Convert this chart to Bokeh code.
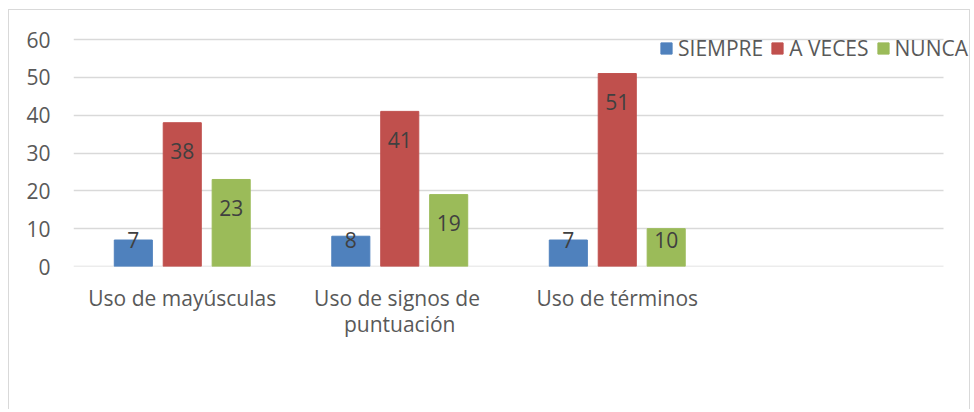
import numpy as np
from bokeh.plotting import figure
from bokeh.models import Range1d, FixedTicker, ColumnDataSource, LinearAxis
from bokeh.core.properties import value
from bokeh.embed import file_html
from bokeh.resources import INLINE

categories = ["Uso de mayúsculas", "Uso de  signos de\npuntuación", "Uso de términos"]
siempre = [7, 8, 7]
a_veces = [38, 41, 51]
nunca = [23, 19, 10]
series_names = ["SIEMPRE", "A VECES", "NUNCA"]
y_ticks = [0, 10, 20, 30, 40, 50, 60]
n_slots = 4  # the chart reserves room for a 4th (empty) category

colors = ["#4F81BD", "#C0504D", "#9BBB59"]
FONT = "Open Sans"
TXT = "#595959"
FS = "21px"

# layout (pixels)
W, H = 962, 400
MB_L, MB_R, MB_T, MB_B = 64, 0, 0, 144
plot_w = 870          # width of the category area
plot_h = 227          # height from 0 to 60
frame_w = W - MB_L - MB_R
frame_h = H - MB_T - MB_B
px_per_unit = plot_h / y_ticks[-1]

x_end = n_slots * frame_w / plot_w
y_end = y_ticks[-1] * frame_h / plot_h

p = figure(x_range=Range1d(0, x_end), y_range=Range1d(0, y_end), width=W, height=H,
           output_backend="svg", toolbar_location=None,
           min_border_left=MB_L, min_border_right=MB_R, min_border_top=MB_T,
           min_border_bottom=MB_B)
p.styles = {"margin-left": "8px", "margin-top": "9px", "background-color": "white",
            "border-left": "1px solid #d9d9d9", "border-top": "1px solid #d9d9d9",
            "border-right": "1px solid #d9d9d9"}
p.outline_line_color = None
p.background_fill_alpha = 0
p.border_fill_alpha = 0

centers = np.arange(len(categories)) + 0.5
offsets = [-0.225, 0.0, 0.225]
bw = 0.175
for name, vals, off, col in zip(series_names, [siempre, a_veces, nunca], offsets, colors):
    v = np.array(vals, dtype=float)
    lab_y = np.maximum(v - 28.5 / px_per_unit, 26.5 / px_per_unit)
    src = ColumnDataSource(dict(x=centers + off, val=v, lab_y=lab_y,
                                txt=[str(int(x)) for x in vals]))
    p.vbar(x="x", top="val", width=bw, source=src,
           fill_color=col, line_color=col, legend_label=name)
    p.text(x="x", y="lab_y", text="txt", source=src,
           text_align="center", text_baseline="middle", text_font=value(FONT),
           text_font_size=FS, text_color="#404040")

# first y axis (under the bars): its ticks, drawn inward, act as gridlines
p.yaxis.level = "underlay"
p.yaxis.ticker = FixedTicker(ticks=y_ticks)
p.yaxis.axis_line_color = None
p.yaxis.major_tick_line_color = "#d9d9d9"
p.yaxis.major_tick_line_width = 1.5
p.yaxis.major_tick_in = plot_w
p.yaxis.major_tick_out = 0
p.yaxis.minor_tick_line_color = None
p.yaxis.major_label_standoff = 0
p.yaxis.major_label_text_font_size = "0px"
p.yaxis.major_label_text_alpha = 0

# second y axis: the tick labels
ylab = LinearAxis(ticker=FixedTicker(ticks=y_ticks))
ylab.axis_line_color = None
ylab.major_tick_line_color = None
ylab.major_tick_in = 0
ylab.major_tick_out = 0
ylab.minor_tick_line_color = None
ylab.major_label_standoff = 23
ylab.major_label_text_font = FONT
ylab.major_label_text_font_size = FS
ylab.major_label_text_color = TXT
p.add_layout(ylab, "left")

p.xaxis.ticker = FixedTicker(ticks=list(centers))
p.xaxis.major_label_overrides = {float(c): lab for c, lab in zip(centers, categories)}
p.xaxis.axis_line_color = None
p.xaxis.major_tick_line_color = None
p.xaxis.major_tick_out = 0
p.xaxis.minor_tick_line_color = None
p.xaxis.major_label_standoff = 17
p.xaxis.major_label_text_font = FONT
p.xaxis.major_label_text_font_size = FS
p.xaxis.major_label_text_color = TXT
p.xaxis.major_label_text_line_height = 0.95

p.xgrid.grid_line_color = None
p.ygrid.grid_line_color = None

lg = p.legend[0]
lg.orientation = "horizontal"
lg.location = (586, 204)
lg.glyph_width = 14
lg.glyph_height = 14
lg.label_standoff = 5
lg.spacing = 7
lg.padding = 0
lg.margin = 0
lg.border_line_color = None
lg.background_fill_alpha = 0
lg.label_text_font = FONT
lg.label_text_font_size = FS
lg.label_text_color = TXT

open("out.html", "w").write(file_html(p, INLINE))
